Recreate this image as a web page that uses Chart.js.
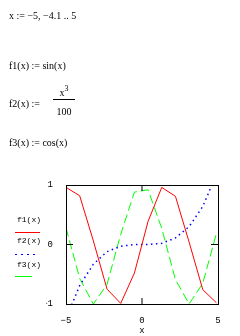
<!DOCTYPE html>
<html lang="en">
<head>
    <meta charset="UTF-8">
    <title>f1, f2, f3 plot</title>
    <script src="https://cdn.jsdelivr.net/npm/chart.js"></script>
    <style>
        body {
            margin: 0;
            width: 240px;
            height: 336px;
            background: #ffffff;
            position: relative;
            overflow: hidden;
            font-family: "Liberation Serif", serif;
            color: #000;
        }
        #plot {
            position: absolute;
            left: 0;
            top: 0;
        }
        .eq {
            position: absolute;
            left: 9px;
            font-size: 10px;
            line-height: 10px;
            white-space: nowrap;
        }
        .frac {
            position: absolute;
            left: 54px;
            font-size: 10px;
            line-height: 10px;
            text-align: center;
            width: 20px;
        }
        .bar {
            position: absolute;
            left: 53px;
            top: 99px;
            width: 22px;
            height: 1px;
            background: #000;
            z-index: 5;
        }
        .legend {
            position: absolute;
            left: 17px;
            font-family: "Liberation Mono", monospace;
            font-size: 8px;
            line-height: 8px;
        }
        .swatch {
            position: absolute;
            left: 15px;
            height: 1px;
        }
    </style>
</head>
<body>
    <canvas id="plot" width="240" height="336"></canvas>

    <div class="eq" style="top:11px">x := &minus;5, &minus;4.1 .. 5</div>
    <div class="eq" style="top:61px">f1(x) := sin(x)</div>
    <div class="eq" style="top:99px">f2(x) := </div>
    <div class="frac" style="top:88px">x<sup style="font-size:8px;vertical-align:5px;line-height:0">3</sup></div>
    <div class="bar"></div>
    <div class="frac" style="top:107px">100</div>
    <div class="eq" style="top:138px">f3(x) := cos(x)</div>

    <div class="legend" style="top:216px">f1(x)</div>
    <div class="swatch" style="top:232px;width:25px;background:#ff0000"></div>
    <div class="legend" style="top:237px">f2(x)</div>
    <div class="swatch" style="top:254px;width:21px;background:repeating-linear-gradient(90deg,#0000ff 0 2px,transparent 2px 6px)"></div>
    <div class="legend" style="top:261px">f3(x)</div>
    <div class="swatch" style="top:276px;width:17px;background:#00ff00"></div>

    <script>
        // x := -5, -4.1 .. 5
        const xs = [-5, -4.1, -3.2, -2.3, -1.4, -0.5, 0.4, 1.3, 2.2, 3.1, 4.0, 4.9];
        const f1Vals = [0.96, 0.82, 0.06, -0.75, -0.99, -0.48, 0.39, 0.96, 0.81, 0.04, -0.76, -0.98];
        const f2Vals = [-1.25, -0.69, -0.33, -0.12, -0.03, 0.0, 0.0, 0.02, 0.11, 0.3, 0.64, 1.18];
        const f3Vals = [0.28, -0.57, -1.0, -0.67, 0.17, 0.88, 0.92, 0.27, -0.59, -1.0, -0.65, 0.19];
        const xTicks = [-5, 0, 5];
        const yTicks = [-1, 0, 1];

        const toPoints = vals => vals.map((v, i) => ({ x: xs[i], y: v }));

        // frame around the plot with small inward ticks at the zero lines
        const framePlugin = {
            id: 'frame',
            afterDatasetsDraw(chart) {
                const { ctx, chartArea: a, scales } = chart;
                const x0 = scales.x.getPixelForValue(0);
                const y0 = scales.y.getPixelForValue(0);
                ctx.save();
                ctx.strokeStyle = '#000';
                ctx.lineWidth = 1;
                ctx.strokeRect(a.left + 0.5, a.top + 0.5, a.right - a.left, a.bottom - a.top);
                ctx.beginPath();
                ctx.moveTo(a.left, y0); ctx.lineTo(a.left + 7, y0);
                ctx.moveTo(a.right, y0); ctx.lineTo(a.right - 7, y0);
                ctx.moveTo(x0, a.top); ctx.lineTo(x0, a.top + 6);
                ctx.moveTo(x0, a.bottom); ctx.lineTo(x0, a.bottom - 6);
                ctx.stroke();
                ctx.restore();
            }
        };

        const noPad = s => {
            s.paddingTop = 0; s.paddingBottom = 0;
            s.paddingLeft = 0; s.paddingRight = 0;
        };

        new Chart(document.getElementById('plot').getContext('2d'), {
            type: 'line',
            data: {
                datasets: [
                    { label: 'f1(x)', data: toPoints(f1Vals), borderColor: '#ff0000', borderWidth: 1 },
                    { label: 'f2(x)', data: toPoints(f2Vals), borderColor: '#0000ff', borderWidth: 1.5, borderDash: [1.5, 3.5] },
                    { label: 'f3(x)', data: toPoints(f3Vals), borderColor: '#00ff00', borderWidth: 1, borderDash: [9, 4] }
                ]
            },
            options: {
                responsive: false,
                animation: false,
                events: [],
                elements: { point: { radius: 0 }, line: { tension: 0 } },
                layout: { padding: { left: 46, right: 22, top: 185, bottom: 0 } },
                plugins: { legend: { display: false }, tooltip: { enabled: false } },
                scales: {
                    x: {
                        type: 'linear',
                        min: -5,
                        max: 5,
                        afterBuildTicks: s => { s.ticks = xTicks.map(v => ({ value: v })); },
                        afterFit: s => { s.height = 32; noPad(s); },
                        grid: { display: false },
                        border: { display: false },
                        ticks: {
                            color: '#000',
                            padding: 3,
                            maxRotation: 0,
                            font: { family: 'Liberation Mono', size: 9 },
                            callback: v => String(v).replace('-', '\u2212')
                        },
                        title: {
                            display: true,
                            text: 'x',
                            color: '#000',
                            padding: { top: 6, bottom: 0 },
                            font: { family: 'Liberation Mono', size: 9 }
                        }
                    },
                    y: {
                        min: -1,
                        max: 1,
                        afterBuildTicks: s => { s.ticks = yTicks.map(v => ({ value: v })); },
                        afterFit: s => { s.width = 20; noPad(s); },
                        grid: { display: false },
                        border: { display: false },
                        ticks: {
                            color: '#000',
                            padding: 5,
                            font: { family: 'Liberation Mono', size: 9 },
                            callback: v => String(v).replace('-', '\u2212')
                        }
                    }
                }
            },
            plugins: [framePlugin]
        });
    </script>
</body>
</html>
